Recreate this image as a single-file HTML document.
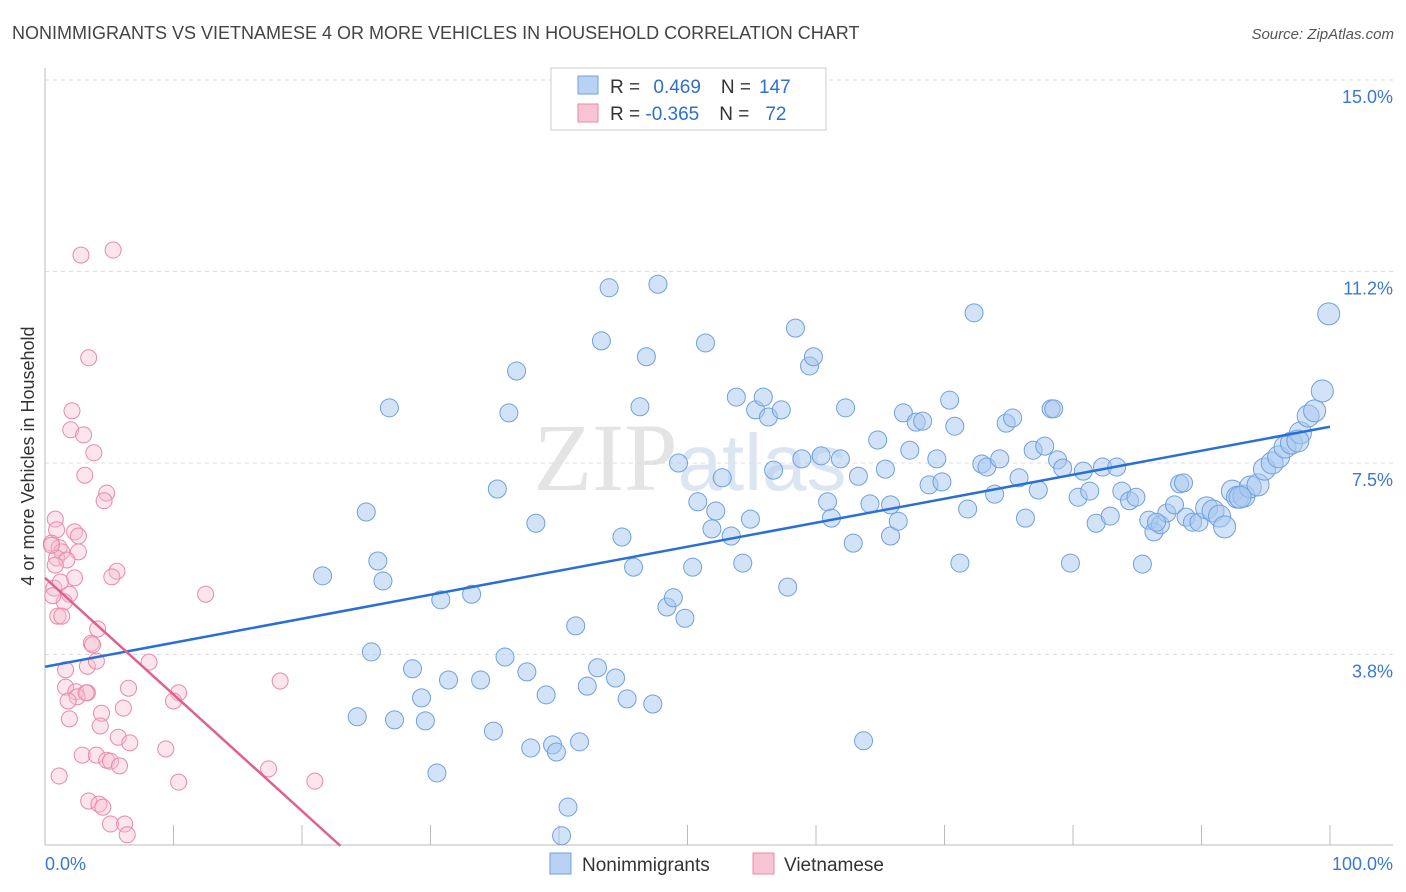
<!DOCTYPE html>
<html><head><meta charset="utf-8"><style>
body{margin:0;background:#fff;font-family:"Liberation Sans",sans-serif;}
svg{display:block}
</style></head><body>
<svg id="chart" width="1406" height="892" viewBox="0 0 1406 892" xmlns="http://www.w3.org/2000/svg">
<text x="12" y="39" font-size="18" fill="#444">NONIMMIGRANTS VS VIETNAMESE 4 OR MORE VEHICLES IN HOUSEHOLD CORRELATION CHART</text>
<text x="1394" y="39" font-size="15" fill="#555" text-anchor="end" font-style="italic">Source: ZipAtlas.com</text>
<text x="690" y="490" font-size="96" fill="#e4e4e4" text-anchor="middle" font-family="Liberation Serif">ZIP<tspan font-family="Liberation Sans" font-size="80" fill="#dce6f2">atlas</tspan></text>
<g id="grid"></g><g id="axes"></g><g id="pts"></g><g id="trend"></g>
<text transform="translate(34,456) rotate(-90)" font-size="18" fill="#333" text-anchor="middle">4 or more Vehicles in Household</text>
<text x="45" y="870" font-size="18" fill="#3a78d4">0.0%</text>
<text x="1393" y="870" font-size="18" fill="#3a78d4" text-anchor="end">100.0%</text>
<g>
<rect x="551" y="68" width="275" height="62" fill="#fff" stroke="#ccc"/>
<rect x="578" y="76" width="20" height="18" fill="#b9d2f3" stroke="#6fa0e0"/>
<rect x="578" y="104" width="20" height="18" fill="#f8c4d3" stroke="#e88aa8"/>
<text x="610" y="93" font-size="19" fill="#333">R = <tspan fill="#2f6fd0" dx="8">0.469</tspan><tspan dx="20" fill="#333">N =</tspan><tspan dx="8" fill="#2f6fd0">147</tspan></text>
<text x="610" y="120" font-size="19" fill="#333">R = <tspan fill="#2f6fd0">-0.365</tspan><tspan dx="20" fill="#333">N =</tspan><tspan dx="16" fill="#2f6fd0">72</tspan></text>
</g>
<g>
<rect x="550" y="853" width="21" height="21" fill="#b9d2f3" stroke="#6fa0e0"/>
<text x="582" y="871" font-size="19" fill="#333">Nonimmigrants</text>
<rect x="753" y="853" width="21" height="21" fill="#f8c4d3" stroke="#e88aa8"/>
<text x="784" y="871" font-size="19" fill="#333">Vietnamese</text>
</g>
</svg>
<script>
const yTicks=[3.75,7.5,11.25,15];
const yTickLabels=["3.8%","7.5%","11.2%","15.0%"];
const xTicks=[0,10,20,30,40,50,60,70,80,90,100];
const blueX=[21.6,25.0,25.4,25.9,26.3,26.8,24.3,27.2,28.6,29.3,29.6,30.5,30.8,31.4,33.2,33.9,34.9,35.2,35.8,36.1,36.7,37.5,37.8,38.2,39.0,39.5,39.8,40.7,40.2,41.3,41.6,42.2,43.0,43.3,43.9,44.4,44.9,45.3,45.8,46.3,46.8,47.3,47.7,48.4,48.9,49.3,49.8,50.4,50.8,51.4,51.9,52.2,52.7,53.4,53.8,54.3,54.9,55.3,55.9,56.3,56.7,57.3,57.8,58.4,58.9,59.5,59.8,60.4,60.9,61.2,61.9,62.3,62.9,63.3,64.2,64.8,65.4,65.8,66.4,66.8,67.3,67.8,68.3,68.8,69.4,69.8,70.4,70.8,71.2,71.8,72.3,72.9,73.3,73.9,74.3,74.8,75.3,75.8,76.3,76.9,77.3,77.8,78.3,78.8,79.2,79.8,80.4,80.8,81.3,81.8,82.3,82.9,83.4,83.8,84.4,84.9,85.4,85.9,86.3,86.8,87.3,87.9,88.3,88.8,89.3,89.8,90.4,90.9,91.4,91.8,92.4,92.8,93.3,93.8,94.4,94.9,95.5,96.0,96.5,97.0,97.7,98.3,98.8,99.4,99.9,97.5,93.0,88.6,86.5,78.5,63.7,65.8];
const blueY=[5.29,6.54,3.80,5.58,5.19,8.58,2.53,2.47,3.47,2.90,2.45,1.43,4.82,3.25,4.93,3.25,2.25,6.99,3.70,8.48,9.30,3.41,1.92,6.32,2.96,1.98,1.84,0.76,0.20,4.31,2.04,3.13,3.49,9.89,10.93,3.29,6.05,2.88,5.46,8.60,9.58,2.78,11.00,4.68,4.86,7.50,4.46,5.46,6.74,9.85,6.21,6.56,7.21,6.07,8.79,5.54,6.40,8.54,8.79,8.40,7.36,8.54,5.07,10.14,7.58,9.40,9.58,7.64,6.74,6.42,7.58,8.58,5.93,7.24,6.70,7.95,7.38,6.07,6.36,8.48,7.75,8.30,8.32,7.07,7.58,7.13,8.73,8.22,5.54,6.60,10.44,7.48,7.42,6.89,7.58,8.28,8.38,7.21,6.42,7.75,6.97,7.83,8.56,7.56,7.40,5.54,6.83,7.34,6.95,6.32,7.42,6.46,7.42,6.95,6.76,6.83,5.52,6.38,6.15,6.29,6.52,6.68,7.09,6.44,6.34,6.34,6.62,6.56,6.46,6.25,6.95,6.83,6.85,7.03,7.07,7.38,7.50,7.62,7.81,7.89,8.09,8.42,8.52,8.91,10.42,7.93,6.83,7.11,6.34,8.56,2.06,6.68];
const pinkX=[2.8,5.3,3.4,2.1,2.0,3.0,3.8,3.1,4.8,4.6,0.8,0.9,2.3,2.6,0.5,1.1,1.3,2.6,0.9,1.7,0.8,5.6,5.2,2.3,0.7,1.9,12.5,1.5,1.0,1.3,4.1,3.6,3.7,3.3,8.1,1.6,1.6,6.5,10.4,2.4,3.3,2.5,10.0,1.8,6.1,4.4,1.9,4.3,5.7,6.6,9.4,2.9,4.0,4.8,5.1,5.8,17.4,1.1,21.0,10.4,3.4,4.2,4.5,5.1,6.2,6.4,18.3,3.2,0.5,1.2,4.0,0.6];
const pinkY=[11.57,11.67,9.56,8.52,8.15,8.05,7.70,7.26,6.91,6.76,6.40,6.19,6.15,6.07,5.93,5.84,5.76,5.76,5.64,5.60,5.50,5.38,5.27,5.25,5.05,4.93,4.93,4.78,4.50,4.50,4.25,3.97,3.94,3.52,3.60,3.45,3.11,3.09,3.00,3.02,3.00,2.92,2.84,2.84,2.70,2.60,2.49,2.35,2.13,2.02,1.90,1.78,1.78,1.68,1.66,1.57,1.51,1.37,1.27,1.25,0.88,0.82,0.76,0.43,0.43,0.22,3.23,3.00,5.89,5.17,3.62,4.90];
const blueTrendX=[0,100], blueTrendY=[3.51,8.21];
const pinkTrendX=[0,23], pinkTrendY=[5.25,0];

const NS="http://www.w3.org/2000/svg";
const X0=45,X1=1330,Y0=846,PPY=51.07;
const sx=v=>X0+(X1-X0)*v/100, sy=v=>Y0-v*PPY;
function mk(tag,attrs,parent){const e=document.createElementNS(NS,tag);for(const k in attrs)e.setAttribute(k,attrs[k]);document.getElementById(parent).appendChild(e);return e;}
yTicks.forEach((t,i)=>{
  const l=mk('line',{x1:45,x2:1393,y1:sy(t),y2:sy(t),stroke:'#ddd','stroke-dasharray':'4,4'},'grid');
  
  
  const tx=mk('text',{x:1393,y:sy(t)+23,'font-size':18,fill:'#3a78d4','text-anchor':'end'},'grid');
  tx.textContent=yTickLabels[i];
  
  
});
const ax=mk('line',{x1:45,x2:1393,y1:845,y2:845,stroke:'#bbb'},'axes');


const ay=mk('line',{x1:45,x2:45,y1:68,y2:845,stroke:'#bbb'},'axes');


xTicks.forEach(t=>{
  const l=mk('line',{x1:sx(t),x2:sx(t),y1:825,y2:845,stroke:'#bbb'},'axes');
  
  
});
blueX.forEach((x,i)=>{
  const c=mk('circle',{cx:sx(x),cy:sy(blueY[i]),r:x>=90?11:9,fill:'rgba(168,199,240,0.5)',stroke:'#6fa0e0','stroke-width':1},'pts');
  
  
});
pinkX.forEach((x,i)=>{
  const c=mk('circle',{cx:sx(x),cy:sy(pinkY[i]),r:8,fill:'rgba(247,190,208,0.4)',stroke:'#e88aa8','stroke-width':1},'pts');
  
  
});
const bt=mk('line',{x1:sx(blueTrendX[0]),y1:sy(blueTrendY[0]),x2:sx(blueTrendX[1]),y2:sy(blueTrendY[1]),stroke:'#2a6fd6','stroke-width':2.5},'trend');


const pt=mk('line',{x1:sx(pinkTrendX[0]),y1:sy(pinkTrendY[0]),x2:sx(pinkTrendX[1]),y2:sy(pinkTrendY[1]),stroke:'#e0608e','stroke-width':2.5},'trend');


</script>
</body></html>
